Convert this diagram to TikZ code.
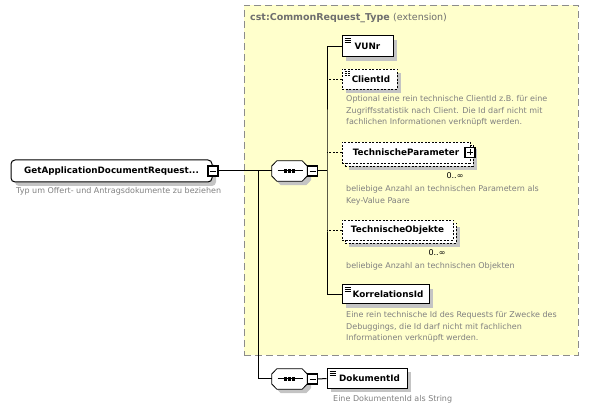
\documentclass[tikz,border=0pt]{standalone}
\usepackage{fontspec}
\setmainfont{DejaVu Sans}
\usepackage{tikz}
\usetikzlibrary{shadows,calc}

\definecolor{extyellow}{HTML}{FFFFCC}
\definecolor{framegray}{HTML}{8C8C8C}
\definecolor{descgray}{HTML}{808080}
\definecolor{titlegray}{HTML}{6E6E6E}
\definecolor{shadegray}{HTML}{C4C4C4}

% octagon outline of a sequence compositor node
\newcommand{\octpath}[1]{($(#1.west)+(0,-5)$) -- ($(#1.north west)+(5,0)$) -- ($(#1.north east)+(-5,0)$) -- ($(#1.east)+(0,-5)$) -- ($(#1.east)+(0,5)$) -- ($(#1.south east)+(-5,0)$) -- ($(#1.south west)+(5,0)$) -- ($(#1.west)+(0,5)$) -- cycle}
\newcommand{\seqmark}[1]{%
  \begin{scope}[transform canvas={shift={(4pt,-4pt)}}]
    \fill[shadegray] \octpath{#1};
  \end{scope}
  \draw[line width=0.8pt, fill=white] \octpath{#1};
  \draw[line width=1pt] ($(#1.center)+(-12,0)$) -- ($(#1.center)+(13,0)$);
  \foreach \d in {-4,0,4}
    \fill ($(#1.center)+(\d,0)$) +(-1.7,-1.7) rectangle +(1.7,1.7);
}

\begin{document}
\begin{tikzpicture}[x=1pt, y=-1pt,
  elem/.style={rectangle, draw, line width=1pt, fill=white, inner sep=0pt, minimum height=20pt, font=\fontsize{8.8}{10}\selectfont\bfseries},
  shade/.style={drop shadow={shadow xshift=4pt, shadow yshift=-4pt, fill=shadegray, opacity=1}},
  opt/.style={dash pattern=on 2pt off 1.5pt, line width=0.8pt},
  simple/.style={path picture={
      \foreach \d in {2.5,4.5,6.5}
        \draw[line width=0.6pt] ($(path picture bounding box.north west)+(2.5pt,-\d pt)$) -- +(6pt,0pt);}},
  seq/.style={rectangle, inner sep=0pt, minimum width=35pt, minimum height=20pt},
  toggle/.style={rectangle, draw, line width=1.2pt, fill=white, inner sep=0pt, minimum size=10pt},
  minus/.style={toggle, path picture={
      \draw[line width=0.8pt] ($(path picture bounding box.west)+(2pt,0pt)$) -- ($(path picture bounding box.east)+(-2pt,0pt)$);}},
  plus/.style={toggle, path picture={
      \draw[line width=0.8pt] ($(path picture bounding box.west)+(2pt,0pt)$) -- ($(path picture bounding box.east)+(-2pt,0pt)$);
      \draw[line width=0.8pt] ($(path picture bounding box.north)+(0pt,-2pt)$) -- ($(path picture bounding box.south)+(0pt,2pt)$);}},
  desc/.style={anchor=north west, align=left, inner sep=0pt, text=descgray, font=\fontsize{8}{11.5}\selectfont},
  card/.style={inner sep=0pt, font=\fontsize{8}{9}\selectfont},
  link/.style={line width=1pt}
]
  \useasboundingbox (0,0) rectangle (589,411);

  % extension frame
  \node[draw=framegray, fill=extyellow, line width=0.9pt, dash pattern=on 7pt off 4pt, minimum width=334pt, minimum height=350pt, inner sep=0pt] (ext) at (411,180) {};
  \node[anchor=west, inner sep=0pt, text=titlegray, font=\fontsize{9.5}{10}\selectfont] (exttitle) at (250,18) {\bfseries cst:CommonRequest\_Type \mdseries(extension)};

  % root element
  \node[elem, shade, rounded corners=4pt, minimum width=201pt, minimum height=22pt] (root) at (111.5,171) {GetApplicationDocumentRequest...\hspace{6pt}};
  \node[minus] (roottog) at (213,171) {};
  \node[desc] (rootdesc) at (16,187.5) {Typ um Offert- und Antragsdokumente zu beziehen};

  % sequences
  \node[seq] (seq1) at (289.5,171) {};
  \seqmark{seq1}
  \node[minus] (seq1tog) at (312.5,171) {};
  \node[seq] (seq2) at (289.5,379) {};
  \seqmark{seq2}
  \node[minus] (seq2tog) at (312.5,379) {};
  \coordinate (spine) at (258,171);
  \coordinate (bus) at (327,171);

  % children of the extension
  \node[elem, shade, simple, minimum width=51pt, minimum height=21pt] (vunr) at (367.5,46.5) {VUNr};
  \node[elem, shade, simple, opt, minimum width=55pt] (clientid) at (369.5,79) {\hspace{3pt}ClientId};
  \node[desc] (clientdesc) at (346,95.5) {Optional eine rein technische ClientId z.B. für eine\\Zugriffsstatistik nach Client. Die Id darf nicht mit\\fachlichen Informationen verknüpft werden.};

  \node[elem, shade, opt, minimum width=128pt, minimum height=21pt] (tpback) at (409,155.5) {};
  \node[elem, opt, minimum width=128pt, minimum height=21pt] (techparam) at (406,152.5) {TechnischeParameter\hspace{8pt}};
  \node[plus] (tptog) at (470,152.5) {};
  \node[card] (tpcard) at (455,176) {0..∞};
  \node[desc] (tpdesc) at (346,185.5) {beliebige Anzahl an technischen Parametern als\\Key-Value Paare};

  \node[elem, shade, opt, minimum width=111pt] (toback) at (400.5,233) {};
  \node[elem, opt, minimum width=111pt] (techobj) at (397.5,230) {TechnischeObjekte};
  \node[card] (tocard) at (437,253) {0..∞};
  \node[desc] (todesc) at (346,262) {beliebige Anzahl an technischen Objekten};

  \node[elem, shade, simple, minimum width=87pt, minimum height=19pt] (korrid) at (385.5,294.5) {\hspace{5pt}KorrelationsId};
  \node[desc] (korrdesc) at (346,311.5) {Eine rein technische Id des Requests für Zwecke des\\Debuggings, die Id darf nicht mit fachlichen\\Informationen verknüpft werden.};

  % second sequence child
  \node[elem, shade, simple, minimum width=80pt] (dokid) at (367,378.5) {\hspace{5pt}DokumentId};
  \node[desc] (dokdesc) at (333,395) {Eine DokumentenId als String};

  % connectors
  \draw[link] (roottog.east) -- (seq1.west);
  \draw[link] (spine) |- (seq2.west);
  \draw[link] (seq1tog.east) -- (bus);
  \draw[link] (vunr.west) -| (bus) |- (korrid.west);
  \draw[link, opt] (clientid.west) -- (clientid.west -| bus);
  \draw[link, opt] (techparam.west) -- (techparam.west -| bus);
  \draw[link, opt] (techobj.west) -- (techobj.west -| bus);
  \draw[link] (seq2tog.east) -- (dokid.west);
\end{tikzpicture}
\end{document}
